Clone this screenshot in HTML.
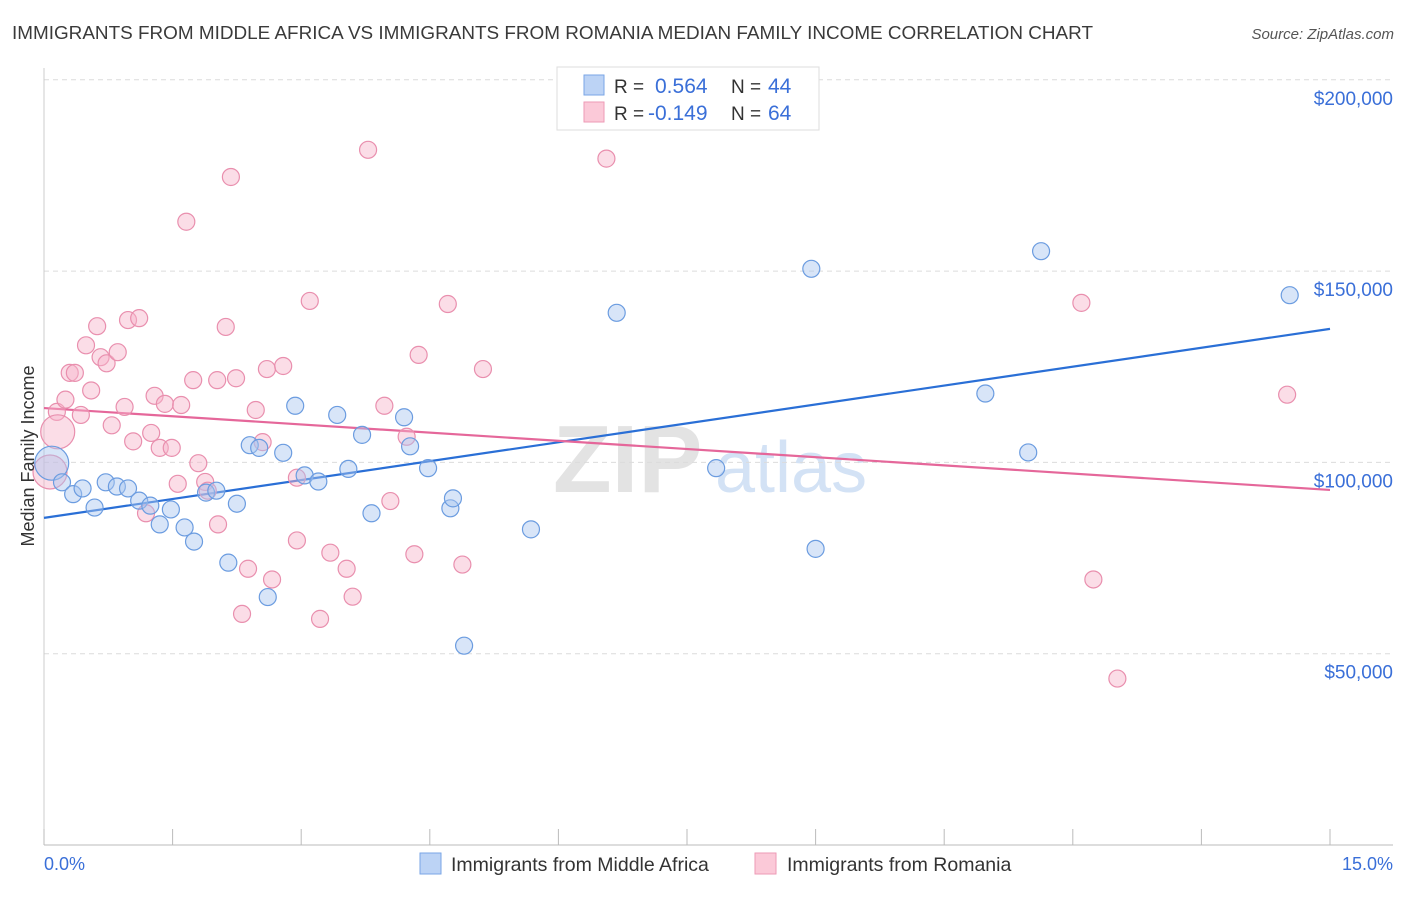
<!DOCTYPE html>
<html><head><meta charset="utf-8">
<style>
body{margin:0;background:#fff;font-family:"Liberation Sans",sans-serif;}
svg text{font-family:"Liberation Sans",sans-serif;}
</style></head>
<body>
<svg id="chart" width="1406" height="892" viewBox="0 0 1406 892" xmlns="http://www.w3.org/2000/svg">
<text x="12" y="39" font-size="18" fill="#3a3a3a" textLength="1081" lengthAdjust="spacingAndGlyphs">IMMIGRANTS FROM MIDDLE AFRICA VS IMMIGRANTS FROM ROMANIA MEDIAN FAMILY INCOME CORRELATION CHART</text>
<text x="1394" y="39" font-size="15" font-style="italic" fill="#555" text-anchor="end">Source: ZipAtlas.com</text>
<g>
<text x="553" y="492" font-size="96" font-family="Liberation Serif" font-weight="bold" fill="#e3e3e3">ZIP</text>
<text x="715" y="492" font-size="72" fill="#d3e2f5">atlas</text>
</g>
<g id="grid"></g>
<g id="axes"></g>
<g id="trend"></g>
<g id="points"></g>
<g>
<rect x="557" y="67" width="262" height="63" fill="#fff" stroke="#ddd"/>
<rect x="584" y="75" width="20" height="20" fill="#bcd3f5" stroke="#7aa6e6"/>
<rect x="584" y="102" width="20" height="20" fill="#fbc9d8" stroke="#ee9ab6"/>
<text x="614" y="93" font-size="19" fill="#333">R =</text>
<text x="655" y="93" font-size="21" fill="#3a6fd8">0.564</text>
<text x="731" y="93" font-size="19" fill="#333">N =</text>
<text x="768" y="93" font-size="21" fill="#3a6fd8">44</text>
<text x="614" y="120" font-size="19" fill="#333">R =</text>
<text x="648" y="120" font-size="21" fill="#3a6fd8">-0.149</text>
<text x="731" y="120" font-size="19" fill="#333">N =</text>
<text x="768" y="120" font-size="21" fill="#3a6fd8">64</text>
</g>
<g>
<rect x="420" y="853" width="21" height="21" fill="#bcd3f5" stroke="#7aa6e6"/>
<text x="451" y="871" font-size="19.5" fill="#333">Immigrants from Middle Africa</text>
<rect x="755" y="853" width="21" height="21" fill="#fbc9d8" stroke="#ee9ab6"/>
<text x="787" y="871" font-size="19.5" fill="#333">Immigrants from Romania</text>
</g>
<text x="44" y="870" font-size="18" fill="#3a6fd8">0.0%</text>
<text x="1393" y="870" font-size="18" fill="#3a6fd8" text-anchor="end">15.0%</text>
<text transform="translate(34,456) rotate(-90)" font-size="18" fill="#333" text-anchor="middle">Median Family Income</text>
</svg>
<script>
const yTicks=[50000,100000,150000,200000];
const yTickLabels=["$50,000","$100,000","$150,000","$200,000"];
const blueX=[0.09,0.21,0.34,0.45,0.59,0.72,0.85,0.98,1.11,1.24,1.35,1.48,1.64,1.75,1.89,2.01,2.15,2.25,2.40,2.51,2.61,2.79,2.93,3.04,3.20,3.42,3.55,3.71,3.82,4.20,4.27,4.48,4.74,4.77,4.90,5.68,6.68,7.84,8.95,9.00,10.98,11.48,11.63,14.53];
const blueY=[99800,94800,91700,93200,88200,94800,93700,93200,90000,88700,83800,87700,83000,79300,92100,92600,73800,89200,104500,103800,64800,102500,114800,96600,95000,112400,98300,107200,86700,111800,104200,98500,88000,90600,52100,82500,139100,98500,150600,77400,118000,102600,155200,143700];
const blueBig=[1,0,0,0,0,0,0,0,0,0,0,0,0,0,0,0,0,0,0,0,0,0,0,0,0,0,0,0,0,0,0,0,0,0,0,0,0,0,0,0,0,0,0,0];
const pinkX=[0.07,0.15,0.16,0.25,0.30,0.36,0.43,0.49,0.55,0.62,0.66,0.73,0.79,0.86,0.94,0.98,1.04,1.11,1.19,1.25,1.29,1.35,1.41,1.49,1.56,1.60,1.66,1.74,1.80,1.88,1.91,2.02,2.03,2.12,2.18,2.24,2.31,2.38,2.47,2.55,2.60,2.66,2.79,2.95,2.95,3.10,3.22,3.34,3.53,3.60,3.78,3.97,4.04,4.23,4.32,4.37,4.71,4.88,5.12,6.56,12.10,12.24,12.52,14.50];
const pinkY=[97500,113200,108000,116400,123400,123400,112400,130600,118800,135600,127500,125900,109700,128800,114500,137200,105500,137700,86700,107700,117400,103800,115300,103800,94400,115000,162900,121500,99800,94900,92600,121500,83800,135400,174600,122000,60400,72200,113700,105300,124400,69400,125200,96000,79600,142200,59100,76400,72200,64900,181700,114800,89900,106700,76000,128100,141400,73300,124400,179400,141700,69400,43500,117700];
const pinkBig=[1,0,1,0,0,0,0,0,0,0,0,0,0,0,0,0,0,0,0,0,0,0,0,0,0,0,0,0,0,0,0,0,0,0,0,0,0,0,0,0,0,0,0,0,0,0,0,0,0,0,0,0,0,0,0,0,0,0,0,0,0,0,0,0];
const blueTrend=[85500,134900];
const pinkTrend=[114200,92800];
const trendX=[0,15];

const X0=44,X1=1330,Y0=845,PX_PER_Y=3.826/1000;
const sx=v=>X0+(v/15)*(X1-X0);
const sy=v=>Y0-v*PX_PER_Y;
const NS="http://www.w3.org/2000/svg";
function mk(tag,attrs,parent){const e=document.createElementNS(NS,tag);for(const k in attrs)e.setAttribute(k,attrs[k]);document.getElementById(parent).appendChild(e);return e;}

yTicks.forEach((t,i)=>{
  const l=mk('line',{x1:44,x2:1393,y1:sy(t),y2:sy(t),stroke:'#dcdcdc','stroke-dasharray':'5,4'},'grid');
  
  
  const tx=mk('text',{x:1393,y:sy(t)+25,'font-size':19,fill:'#3a6fd8','text-anchor':'end'},'grid');
  tx.textContent=yTickLabels[i];
  
  
});
const ax=mk('line',{x1:44,x2:1393,y1:845,y2:845,stroke:'#bbb'},'axes');


const ay=mk('line',{x1:44,x2:44,y1:68,y2:845,stroke:'#ccc'},'axes');


for(let i=0;i<=10;i++){
  const tk=mk('line',{x1:sx(i*1.5),x2:sx(i*1.5),y1:829,y2:845,stroke:'#bbb'},'axes');
  
  
}
function pts(xs,ys,big,fill,stroke,name){
  xs.forEach((x,i)=>{
    const c=mk('circle',{cx:sx(x),cy:sy(ys[i]),r:big[i]?17:8.5,fill:fill,'fill-opacity':0.45,stroke:stroke,'stroke-width':1.2},'points');
    
    
  });
}
pts(pinkX,pinkY,pinkBig,'#f7b3c9','#e98fae','point-romania');
pts(blueX,blueY,blueBig,'#a8c5f0','#6b9ce0','point-middle-africa');
const bt=mk('line',{x1:sx(trendX[0]),x2:sx(trendX[1]),y1:sy(blueTrend[0]),y2:sy(blueTrend[1]),stroke:'#2a6fd6','stroke-width':2.2},'trend');


const pt=mk('line',{x1:sx(trendX[0]),x2:sx(trendX[1]),y1:sy(pinkTrend[0]),y2:sy(pinkTrend[1]),stroke:'#e5679a','stroke-width':2.2},'trend');


</script>
</body></html>
